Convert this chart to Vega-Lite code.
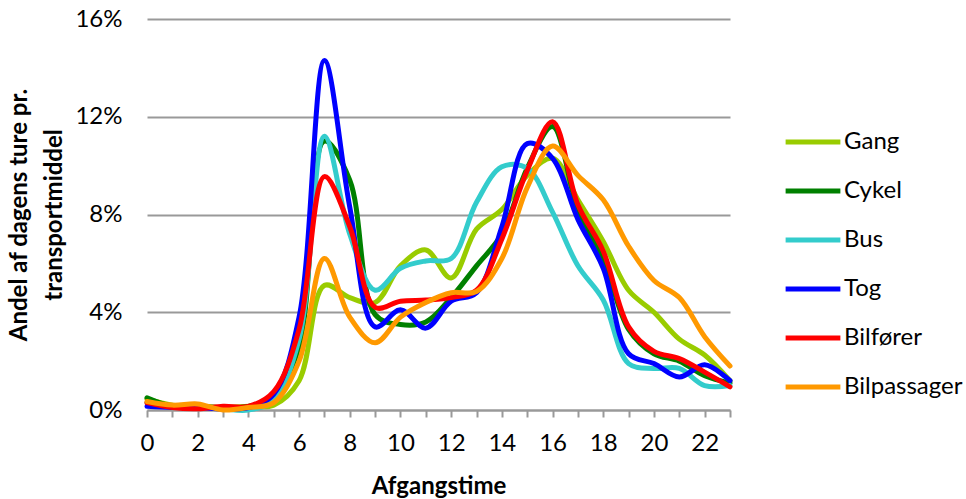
{
  "$schema": "https://vega.github.io/schema/vega-lite/v6.json",
  "width": 583,
  "height": 391,
  "autosize": {"type": "none"},
  "padding": {"left": 147, "top": 19, "right": 236, "bottom": 89},
  "background": "white",
  "config": {
    "font": "Lato",
    "view": {"stroke": null}
  },
  "data": {
    "values": [
      {"hour": 0, "Gang": 0.45, "Cykel": 0.5, "Bus": 0.3, "Tog": 0.15, "Bilfører": 0.3, "Bilpassager": 0.35},
      {"hour": 1, "Gang": 0.2, "Cykel": 0.15, "Bus": 0.15, "Tog": 0.1, "Bilfører": 0.1, "Bilpassager": 0.2},
      {"hour": 2, "Gang": 0.15, "Cykel": 0.15, "Bus": 0.15, "Tog": 0.1, "Bilfører": 0.05, "Bilpassager": 0.25},
      {"hour": 3, "Gang": 0.1, "Cykel": 0.1, "Bus": 0.05, "Tog": 0.05, "Bilfører": 0.15, "Bilpassager": 0.0},
      {"hour": 4, "Gang": 0.15, "Cykel": 0.15, "Bus": 0.0, "Tog": 0.1, "Bilfører": 0.15, "Bilpassager": 0.1},
      {"hour": 5, "Gang": 0.2, "Cykel": 0.5, "Bus": 0.4, "Tog": 0.65, "Bilfører": 0.75, "Bilpassager": 0.3},
      {"hour": 6, "Gang": 1.2, "Cykel": 2.6, "Bus": 2.9, "Tog": 3.8, "Bilfører": 3.3, "Bilpassager": 2.0},
      {"hour": 7, "Gang": 5.1, "Cykel": 11.0, "Bus": 11.2, "Tog": 14.3, "Bilfører": 9.55, "Bilpassager": 6.2},
      {"hour": 8, "Gang": 4.6, "Cykel": 9.4, "Bus": 7.2, "Tog": 8.3, "Bilfører": 7.5, "Bilpassager": 3.8},
      {"hour": 9, "Gang": 4.4, "Cykel": 3.9, "Bus": 4.9, "Tog": 3.4, "Bilfører": 4.2, "Bilpassager": 2.75},
      {"hour": 10, "Gang": 5.9, "Cykel": 3.5, "Bus": 5.8, "Tog": 4.1, "Bilfører": 4.45, "Bilpassager": 3.8},
      {"hour": 11, "Gang": 6.55, "Cykel": 3.6, "Bus": 6.1, "Tog": 3.35, "Bilfører": 4.5, "Bilpassager": 4.4},
      {"hour": 12, "Gang": 5.4, "Cykel": 4.6, "Bus": 6.2, "Tog": 4.45, "Bilfører": 4.6, "Bilpassager": 4.8},
      {"hour": 13, "Gang": 7.4, "Cykel": 5.9, "Bus": 8.5, "Tog": 4.8, "Bilfører": 4.9, "Bilpassager": 4.85},
      {"hour": 14, "Gang": 8.2, "Cykel": 7.2, "Bus": 9.95, "Tog": 7.5, "Bilfører": 7.0, "Bilpassager": 6.2},
      {"hour": 15, "Gang": 9.6, "Cykel": 9.9, "Bus": 9.9, "Tog": 10.9, "Bilfører": 9.8, "Bilpassager": 9.1},
      {"hour": 16, "Gang": 10.3, "Cykel": 11.6, "Bus": 8.1, "Tog": 10.3, "Bilfører": 11.8, "Bilpassager": 10.8},
      {"hour": 17, "Gang": 8.6, "Cykel": 8.2, "Bus": 5.9, "Tog": 7.8, "Bilfører": 8.4, "Bilpassager": 9.6},
      {"hour": 18, "Gang": 6.9, "Cykel": 6.2, "Bus": 4.5, "Tog": 5.8, "Bilfører": 6.5, "Bilpassager": 8.6},
      {"hour": 19, "Gang": 4.9, "Cykel": 3.3, "Bus": 1.9, "Tog": 2.3, "Bilfører": 3.4, "Bilpassager": 6.7},
      {"hour": 20, "Gang": 4.0, "Cykel": 2.3, "Bus": 1.7, "Tog": 1.9, "Bilfører": 2.4, "Bilpassager": 5.3},
      {"hour": 21, "Gang": 2.9, "Cykel": 2.0, "Bus": 1.7, "Tog": 1.35, "Bilfører": 2.1, "Bilpassager": 4.6},
      {"hour": 22, "Gang": 2.25, "Cykel": 1.4, "Bus": 1.0, "Tog": 1.85, "Bilfører": 1.55, "Bilpassager": 3.0},
      {"hour": 23, "Gang": 1.2, "Cykel": 1.1, "Bus": 1.0, "Tog": 1.2, "Bilfører": 0.95, "Bilpassager": 1.8}
    ]
  },
  "transform": [
    {"fold": ["Gang", "Cykel", "Bus", "Tog", "Bilfører", "Bilpassager"], "as": ["mode", "v"]}
  ],
  "mark": {"type": "line", "interpolate": "catmull-rom", "strokeWidth": 5, "strokeCap": "round"},
  "encoding": {
    "x": {
      "field": "hour", "type": "quantitative",
      "scale": {"domain": [0, 23], "nice": false, "zero": false},
      "axis": {
        "values": [0,1,2,3,4,5,6,7,8,9,10,11,12,13,14,15,16,17,18,19,20,21,22,23],
        "labelExpr": "datum.value % 2 == 0 ? datum.label : ''",
        "labelFlush": false,
        "grid": false,
        "domainColor": "#999999", "domainWidth": 2,
        "tickColor": "#999999", "tickWidth": 2, "tickSize": 7,
        "labelFontSize": 24, "labelColor": "#000000", "labelPadding": 14, "labelFont": "Lato",
        "title": "Afgangstime", "titleFontSize": 24, "titleFontWeight": "bold", "titleColor": "#000000",
        "titlePadding": 19, "titleFont": "Lato"
      }
    },
    "y": {
      "field": "v", "type": "quantitative",
      "scale": {"domain": [0, 16], "nice": false},
      "axis": {
        "values": [0, 4, 8, 12, 16],
        "labelExpr": "datum.value + '%'",
        "domain": false, "ticks": false,
        "gridColor": "#999999", "gridWidth": 2,
        "labelFontSize": 24, "labelColor": "#000000", "labelPadding": 25, "labelFont": "Lato",
        "title": ["Andel af dagens ture pr.", "transportmiddel"],
        "titleFontSize": 24, "titleFontWeight": "bold", "titleColor": "#000000",
        "titlePadding": 8, "titleFont": "Lato", "titleLineHeight": 35
      }
    },
    "color": {
      "field": "mode", "type": "nominal",
      "scale": {
        "domain": ["Gang", "Cykel", "Bus", "Tog", "Bilfører", "Bilpassager"],
        "range": ["#99CC00", "#008000", "#33CCCC", "#0000FF", "#FF0000", "#FF9900"]
      },
      "sort": ["Gang", "Cykel", "Bus", "Tog", "Bilfører", "Bilpassager"],
      "legend": {
        "orient": "none", "legendX": 636, "legendY": 93,
        "title": null,
        "symbolType": "stroke", "symbolStrokeWidth": 5, "symbolSize": 3000,
        "labelFontSize": 24, "labelColor": "#000000", "labelFont": "Lato",
        "labelOffset": 1, "rowPadding": 7, "labelLimit": 300
      }
    }
  }
}
